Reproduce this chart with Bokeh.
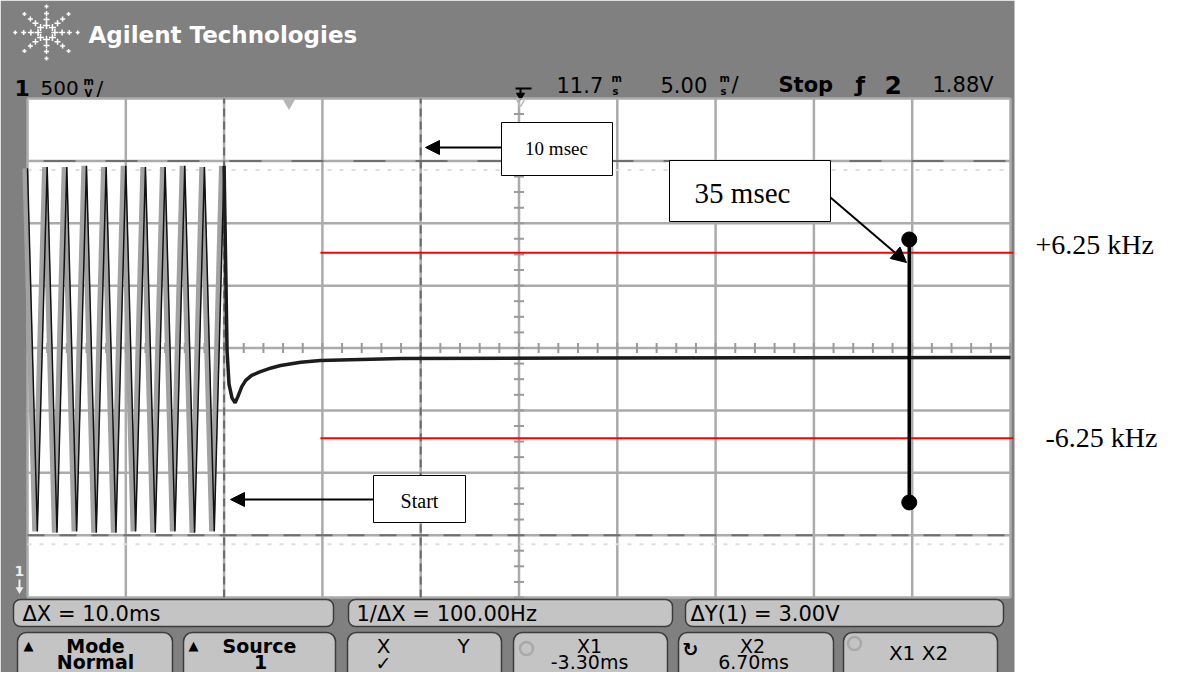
import math
from bokeh.plotting import figure
from bokeh.models import Range1d, Arrow, NormalHead
from bokeh.core.properties import value
from bokeh.embed import file_html
from bokeh.resources import INLINE

ms_per_div = 5.0
v_per_div = 0.5
t_left = -13.3            # ms at left edge of graticule (delay 11.7 ms at centre)
x_divs = 10
y_divs = 8
cursor_t = [-3.3, 6.7]    # X1, X2 cursors (ms)
cursor_v = [1.5, -1.5]    # Y cursors (V)
trigger_t = 0.0

# oscillation before the switch: alternating peaks / troughs
osc_t = [-13.3, -12.8, -12.3, -11.8, -11.3, -10.8, -10.3, -9.8, -9.3, -8.8,
         -8.3, -7.8, -7.3, -6.8, -6.3, -5.8, -5.3, -4.8, -4.3, -3.8, -3.3]
osc_v = [1.44, -1.47, 1.45, -1.48, 1.45, -1.47, 1.46, -1.48, 1.45, -1.48,
         1.46, -1.47, 1.45, -1.48, 1.45, -1.47, 1.46, -1.48, 1.45, -1.47, 1.46]

# settling after the switch
dec_t = [-3.3, -3.15, -3.05, -2.9, -2.74, -2.6, -2.4, -2.2, -1.9, -1.45,
         -0.9, -0.43, 0.6, 1.6, 5.7, 15.0, 25.0, 36.7]
dec_v = [1.46, -0.02, -0.29, -0.40, -0.44, -0.39, -0.31, -0.26, -0.22, -0.19,
         -0.16, -0.14, -0.115, -0.10, -0.085, -0.08, -0.078, -0.076]

# frequency limits and 35 ms marker
band_labels = ["+6.25 kHz", "-6.25 kHz"]
band_v = [0.764, -0.724]
band_t = [1.6, 36.85]
marker_t = 31.55
marker_v = [0.87, -1.238]

# ---------------- geometry (reference pixels -> data) ----------------
W, H = 1170, 672
PXMS = 983.0 / (x_divs * ms_per_div)
PXV = 499.0 / (y_divs * v_per_div)
V_TOP = y_divs / 2 * v_per_div


def X(rx):
    return t_left + (rx - 27) / PXMS


def Y(ry):
    return V_TOP - (ry - 98) / PXV


p = figure(width=W, height=H,
           x_range=Range1d(X(0), X(W)), y_range=Range1d(Y(H), Y(0)),
           output_backend="svg", toolbar_location=None,
           x_axis_location=None, y_axis_location=None, min_border=0)
p.outline_line_color = None
p.grid.visible = False
p.background_fill_color = "white"
p.border_fill_color = "white"


def T(rx, ry, s, size=20, color="black", bold=False, align="left",
      font="DejaVu Sans"):
    p.text(x=[X(rx)], y=[Y(ry)], text=[s], text_font=value(font),
           text_font_size=f"{size}px", text_color=color,
           text_font_style="bold" if bold else "normal",
           text_align=align, text_baseline="middle")


# scope background
p.quad(left=[X(0)], right=[X(1014)], top=[Y(0)], bottom=[Y(H)],
       fill_color="#808080", line_color=None)
t_right = t_left + x_divs * ms_per_div
p.quad(left=[t_left], right=[t_right], top=[V_TOP], bottom=[-V_TOP],
       fill_color="white", line_color=None)

# graticule
gx = [t_left + ms_per_div * i for i in range(x_divs + 1)]
gy = [-V_TOP + v_per_div * j for j in range(y_divs + 1)]
p.segment(x0=gx, x1=gx, y0=[-V_TOP] * len(gx), y1=[V_TOP] * len(gx),
          line_color="#ababab", line_width=2.5)
p.segment(x0=[t_left] * len(gy), x1=[t_right] * len(gy), y0=gy, y1=gy,
          line_color="#ababab", line_width=2.5)
t_mid = t_left + x_divs * ms_per_div / 2
tx = [t_left + k * ms_per_div / 5 for k in range(x_divs * 5 + 1)]
p.segment(x0=tx, x1=tx, y0=[-5 / PXV] * len(tx), y1=[5 / PXV] * len(tx),
          line_color="#9a9a9a", line_width=2)
ty = [-V_TOP + k * v_per_div / 4 for k in range(y_divs * 4 + 1)]
p.segment(x0=[t_mid - 5 / PXMS] * len(ty), x1=[t_mid + 5 / PXMS] * len(ty),
          y0=ty, y1=ty, line_color="#9a9a9a", line_width=2)

# faint ghost lines under Y cursors
p.segment(x0=[t_left, t_left], x1=[t_right, t_right],
          y0=[cursor_v[0] - 9 / PXV, cursor_v[1] - 9 / PXV],
          y1=[cursor_v[0] - 9 / PXV, cursor_v[1] - 9 / PXV],
          line_color="#dedede", line_width=2, line_dash="4 8")
# Y cursors
p.segment(x0=[t_left], x1=[t_right], y0=[cursor_v[0]], y1=[cursor_v[0]],
          line_color="#6f6f6f", line_width=2, line_dash="32 30",
          line_dash_offset=-16)
p.segment(x0=[t_left], x1=[t_right], y0=[cursor_v[1]], y1=[cursor_v[1]],
          line_color="#6f6f6f", line_width=2, line_dash="17 15")
# X cursors
p.segment(x0=cursor_t, x1=cursor_t, y0=[-V_TOP] * 2, y1=[V_TOP] * 2,
          line_color="#6a6a6a", line_width=2, line_dash="8 5")

# traces
p.line([t - 0.12 for t in osc_t], osc_v, line_color="#a2a2a2", line_width=5.5)
p.line(osc_t, osc_v, line_color="#111111", line_width=1.5)
p.line(dec_t, dec_v, line_color="#1c1c1c", line_width=3.5)

# red limit lines and labels
p.segment(x0=[band_t[0]] * 2, x1=[band_t[1]] * 2, y0=band_v, y1=band_v,
          line_color="#ff0000", line_width=2)
T(1035, 244, band_labels[0], size=28, font="Liberation Serif")
T(1045, 437, band_labels[1], size=28, font="Liberation Serif")

# 35 ms marker
p.segment(x0=[marker_t], x1=[marker_t], y0=[marker_v[0]], y1=[marker_v[1]],
          line_color="black", line_width=3.5)
p.scatter(x=[marker_t] * 2, y=marker_v, size=15, marker="circle",
          fill_color="black", line_color="black")


# annotation boxes
def box(l, r, t, b, fill="white", line="black", lw=1, radius=0):
    p.quad(left=[X(l)], right=[X(r)], top=[Y(t)], bottom=[Y(b)],
           fill_color=fill, line_color=line, line_width=lw,
           border_radius=radius)


box(501, 612, 122, 175)
T(556, 148, "10 msec", size=19, font="Liberation Serif", align="center")
p.add_layout(Arrow(end=NormalHead(size=14, fill_color="black", line_color="black"),
                   x_start=X(501), y_start=Y(147), x_end=X(425), y_end=Y(147),
                   line_width=2, line_color="black"))
box(373, 465, 475, 522)
T(419, 500, "Start", size=20, font="Liberation Serif", align="center")
p.add_layout(Arrow(end=NormalHead(size=14, fill_color="black", line_color="black"),
                   x_start=X(373), y_start=Y(499), x_end=X(230), y_end=Y(499),
                   line_width=2, line_color="black"))
box(669, 830, 160, 221)
T(742, 192, "35 msec", size=29, font="Liberation Serif", align="center")
p.add_layout(Arrow(end=NormalHead(size=15, fill_color="black", line_color="black"),
                   x_start=X(830), y_start=Y(197), x_end=X(906), y_end=Y(262),
                   line_width=2, line_color="black"))

# ---------------- header ----------------
lx, ly = [], []
ls = []
for k in range(8):
    a = math.radians(k * 45)
    for r, s in zip([7, 13, 19, 26], [7, 6, 5, 4]):
        lx.append(X(46 + 1.2 * r * math.cos(a)))
        ly.append(Y(32 - r * math.sin(a)))
        ls.append(s)
p.scatter(x=lx, y=ly, size=ls, marker="cross", line_color="white", line_width=1.5)
T(88, 34, "Agilent Technologies", size=23, color="white", bold=True)

T(14, 87, "1", size=22, bold=True)
T(40, 87, "500", size=20)
T(83, 81, "m", size=10, bold=True)
T(84, 93, "V", size=10, bold=True)
T(96, 87, "/", size=20)

# trigger position marker
p.segment(x0=[X(515)], x1=[X(531)], y0=[Y(88)], y1=[Y(88)], line_color="black", line_width=2)
p.segment(x0=[X(520)], x1=[X(520)], y0=[Y(88)], y1=[Y(94)], line_color="black", line_width=2)
p.scatter(x=[X(520)], y=[Y(95)], marker="inverted_triangle", size=8,
          fill_color="black", line_color="black")
p.scatter(x=[X(520)], y=[Y(101)], marker="inverted_triangle", size=9,
          fill_color=None, line_color="#bdbdbd", line_width=1.5)
p.scatter(x=[trigger_t], y=[Y(102)], marker="inverted_triangle", size=13,
          fill_color="#b5b5b5", line_color=None)

T(556, 84, "11.7", size=21)
T(611, 78, "m", size=10, bold=True)
T(612, 91, "s", size=10, bold=True)
T(660, 84, "5.00", size=21)
T(719, 78, "m", size=10, bold=True)
T(720, 91, "s", size=10, bold=True)
T(731, 84, "/", size=21)
T(778, 84, "Stop", size=21, bold=True)
T(855, 84, "ƒ", size=22, bold=True)
T(884, 84, "2", size=25, bold=True)
T(932, 84, "1.88V", size=21)

# left marker
T(14, 570, "1", size=14, color="#eeeeee", bold=True)
p.segment(x0=[X(19)], x1=[X(19)], y0=[Y(579)], y1=[Y(589)], line_color="#eeeeee", line_width=2)
p.scatter(x=[X(19)], y=[Y(589)], marker="inverted_triangle", size=8,
          fill_color="#eeeeee", line_color=None)

# ---------------- softkey area ----------------
BF = "#c4c4c4"
BL = "#3c3c3c"
for l, r in [(13, 333), (348, 672), (685, 1003)]:
    box(l, r, 599, 626, fill=BF, line=BL, lw=1.5, radius=7)
T(22, 613, "ΔX = 10.0ms", size=21)
T(356, 613, "1/ΔX = 100.00Hz", size=21)
T(690, 613, "ΔY(1) = 3.00V", size=21)

for l, r in [(17, 172), (183, 335), (347, 501), (513, 667), (678, 833), (843, 997)]:
    box(l, r, 632, 690, fill=BF, line=BL, lw=1.5, radius=9)
L1, L2 = 645, 661
T(28, L1, "▲", size=13, align="center")
T(95, L1, "Mode", size=19, bold=True, align="center")
T(95, L2, "Normal", size=19, bold=True, align="center")
T(193, L1, "▲", size=13, align="center")
T(259, L1, "Source", size=19, bold=True, align="center")
T(260, L2, "1", size=19, bold=True, align="center")
T(383, L1, "X", size=20, align="center")
T(463, L1, "Y", size=20, align="center")
T(383, L2 + 1, "✓", size=19, align="center")
p.scatter(x=[X(526), X(854)], y=[Y(648), Y(643)], marker="circle", size=13,
          fill_color=None, line_color="#a9a9a9", line_width=2.5)
T(589, L1, "X1", size=19, align="center")
T(589, L2, "-3.30ms", size=19, align="center")
T(690, 648, "↻", size=19, bold=True, align="center")
T(752, L1, "X2", size=19, align="center")
T(753, L2, "6.70ms", size=19, align="center")
T(918, 652, "X1 X2", size=20, align="center")

open("out.html", "w").write(file_html(p, INLINE))
